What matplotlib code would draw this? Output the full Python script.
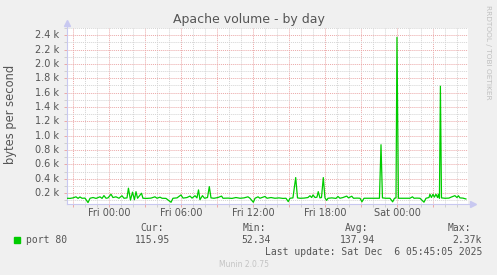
import matplotlib
matplotlib.use("Agg")
import matplotlib.pyplot as plt
from matplotlib.ticker import MultipleLocator

# hours relative to Fri 00:00, bytes per second
hours = [-3.50, -3.25, -3.00, -2.75, -2.58, -2.42, -2.25, -2.00, -1.75, -1.58,
         -1.33, -1.08, -0.75, -0.58, -0.42, -0.25, -0.08, 0.17, 0.33, 0.58,
         0.83, 1.08, 1.25, 1.50, 1.62, 1.79, 1.96, 2.12, 2.25, 2.38,
         2.71, 2.83, 3.17, 3.50, 3.83, 4.00, 4.25, 4.42, 4.75, 5.17,
         5.33, 5.67, 6.00, 6.17, 6.50, 6.75, 6.92, 7.17, 7.33, 7.46,
         7.58, 7.79, 7.96, 8.21, 8.36, 8.50, 8.75, 9.08, 9.38, 9.50,
         9.92, 10.25, 10.58, 10.92, 11.25, 11.58, 11.75, 12.03, 12.17, 12.42,
         12.58, 13.00, 13.17, 13.50, 13.83, 14.17, 14.50, 14.75, 14.94, 15.08,
         15.33, 15.56, 15.71, 15.92, 16.25, 16.58, 16.75, 16.89, 17.00, 17.17,
         17.33, 17.44, 17.58, 17.71, 17.86, 18.00, 18.14, 18.25, 18.58, 18.92,
         19.08, 19.25, 19.50, 19.81, 19.96, 20.23, 20.38, 20.67, 20.92, 21.08,
         21.25, 21.58, 21.92, 22.25, 22.54, 22.67, 22.79, 23.08, 23.42, 23.64,
         23.79, 23.92, 24.00, 24.12, 24.42, 24.75, 25.08, 25.29, 25.42, 25.67,
         25.92, 26.25, 26.42, 26.67, 26.75, 26.87, 27.00, 27.12, 27.25, 27.38,
         27.46, 27.54, 27.62, 27.71, 28.00, 28.33, 28.58, 28.83, 29.00, 29.12,
         29.25, 29.50, 29.75]
bytes_per_sec = [130, 128, 135, 150, 128, 148, 130, 132, 70, 130,
                 140, 128, 150, 128, 167, 130, 135, 186, 140, 150,
                 130, 165, 130, 135, 270, 105, 215, 110, 222, 130,
                 200, 130, 128, 132, 150, 130, 145, 130, 128, 74,
                 130, 135, 176, 132, 140, 160, 132, 165, 135, 246,
                 110, 166, 130, 140, 292, 135, 130, 140, 160, 130,
                 132, 128, 140, 130, 135, 150, 130, 74, 130, 150,
                 130, 155, 130, 140, 130, 135, 128, 130, 83, 130,
                 135, 418, 135, 130, 132, 140, 165, 140, 176, 140,
                 145, 222, 135, 140, 418, 135, 100, 130, 135, 128,
                 155, 130, 140, 160, 135, 158, 130, 132, 130, 80,
                 130, 130, 130, 130, 130, 875, 135, 130, 130, 80,
                 130, 135, 2370, 130, 130, 130, 130, 150, 130, 132,
                 130, 75, 130, 140, 186, 140, 186, 145, 186, 140,
                 186, 130, 1690, 135, 130, 132, 150, 166, 140, 165,
                 135, 132, 120]

x_tick_hours = [0, 6, 12, 18, 24]
x_tick_labels = ["Fri 00:00", "Fri 06:00", "Fri 12:00", "Fri 18:00", "Sat 00:00"]
y_ticks = [200, 400, 600, 800, 1000, 1200, 1400, 1600, 1800, 2000, 2200, 2400]
y_tick_labels = ["0.2 k", "0.4 k", "0.6 k", "0.8 k", "1.0 k", "1.2 k",
                 "1.4 k", "1.6 k", "1.8 k", "2.0 k", "2.2 k", "2.4 k"]

series_label = "port 80"
stat_names = ["Cur:", "Min:", "Avg:", "Max:"]
stat_values = ["115.95", "52.34", "137.94", "2.37k"]
last_update = "Last update: Sat Dec  6 05:45:05 2025"

W, H = 497, 275
BG = "#F0F0F0"
GREEN = "#00CC00"
TXT = "#555555"
AXIS = "#C8C8F0"


def fx(x):
    return x / W


def fy(y):
    return 1 - y / H


fig = plt.figure(figsize=(W / 100, H / 100), dpi=100, facecolor=BG)
ax = fig.add_axes([fx(67), fy(204), 401 / W, 176 / H])
ax.set_facecolor("white")

ax.plot(hours, bytes_per_sec, color=GREEN, linewidth=0.9, zorder=3)

ax.set_xlim(-3.5, 29.92)
ax.set_ylim(50, 2500)

ax.xaxis.set_major_locator(MultipleLocator(3))
ax.xaxis.set_minor_locator(MultipleLocator(1))
ax.yaxis.set_major_locator(MultipleLocator(200))
ax.yaxis.set_minor_locator(MultipleLocator(100))
ax.grid(which="minor", color="#D4D4D4", linestyle=(0, (1, 1)), linewidth=0.7)
ax.grid(which="major", color="#EBA8A8", linestyle=(0, (1, 1)), linewidth=0.7)
ax.set_axisbelow(True)

ax.set_xticklabels([])
ax.set_yticklabels([])
ax.tick_params(which="major", length=2, width=0.7, color="#EBA8A8", direction="out")
ax.tick_params(which="minor", length=2, width=0.7, color="#D0D0D0", direction="out")

for h, lab in zip(x_tick_hours, x_tick_labels):
    ax.text(h, -0.05, lab, transform=ax.get_xaxis_transform(), ha="center",
            va="center", fontsize=7, color=TXT)
for v, lab in zip(y_ticks, y_tick_labels):
    ax.text(-0.02, v, lab, transform=ax.get_yaxis_transform(), ha="right",
            va="center", fontsize=7, color=TXT)

for s in ax.spines.values():
    s.set_visible(False)
ax.plot([0, 0], [0, 1.02], transform=ax.transAxes, color=AXIS, lw=0.8, clip_on=False)
ax.plot([0, 1.01], [0, 0], transform=ax.transAxes, color=AXIS, lw=0.8, clip_on=False)
ax.plot([0], [1.03], transform=ax.transAxes, marker="^", markersize=4,
        color=AXIS, clip_on=False)
ax.plot([1.012], [0], transform=ax.transAxes, marker=">", markersize=4,
        color=AXIS, clip_on=False)

fig.text(fx(248.5), fy(19), "Apache volume - by day", ha="center", va="center",
         fontsize=9, color=TXT)
fig.text(fx(11), fy(114), "bytes per second", rotation=90, ha="center",
         va="center", fontsize=8.3, color=TXT)
fig.text(fx(488), fy(5), "RRDTOOL / TOBI OETIKER", rotation=-90, ha="center",
         va="top", fontsize=5.3, color="#C0C0C0")

mono = dict(family="DejaVu Sans Mono", fontsize=7, color=TXT, va="center")
fig.patches.append(plt.Rectangle((fx(14), fy(242.5)), 6 / W, 6 / H,
                                 transform=fig.transFigure, color=GREEN))
fig.text(fx(26.5), fy(240), series_label, ha="left", **mono)
name_x = [140.5, 243, 345, 447.5]
value_right = [170, 271, 375, 482]
for nx, vr, nm, val in zip(name_x, value_right, stat_names, stat_values):
    fig.text(fx(nx), fy(228), nm, ha="left", **mono)
    fig.text(fx(vr), fy(240), val, ha="right", **mono)
fig.text(fx(482), fy(252), last_update, ha="right", **mono)
fig.text(fx(244), fy(264.5), "Munin 2.0.75", ha="center", va="center",
         fontsize=5.5, color="#C4C4C4")

fig.savefig("out.png", dpi=100, facecolor=BG)
